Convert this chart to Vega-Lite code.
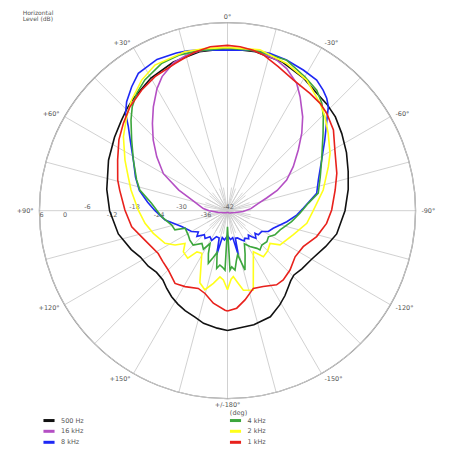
{
  "$schema": "https://vega.github.io/schema/vega-lite/v6.json",
  "width": 376,
  "height": 376,
  "autosize": {"type": "none"},
  "padding": {"left": 39.5, "top": 22.7, "right": 36.5, "bottom": 53.3},
  "background": "white",
  "config": {"view": {"stroke": null}, "font": "DejaVu Sans"},
  "datasets": {
    "rings": [
      {"lv": 6}, {"lv": 0}, {"lv": -6}, {"lv": -12}, {"lv": -18},
      {"lv": -24}, {"lv": -30}, {"lv": -36}
    ],
    "spokes": [
      {"a": 0}, {"a": 15}, {"a": 30}, {"a": 45}, {"a": 60}, {"a": 75},
      {"a": 90}, {"a": 105}, {"a": 120}, {"a": 135}, {"a": 150}, {"a": 165},
      {"a": 180}, {"a": 195}, {"a": 210}, {"a": 225}, {"a": 240}, {"a": 255},
      {"a": 270}, {"a": 285}, {"a": 300}, {"a": 315}, {"a": 330}, {"a": 345}
    ],
    "hub": [
      {"a": 0}, {"a": 10}, {"a": 20}, {"a": 30}, {"a": 40}, {"a": 50},
      {"a": 60}, {"a": 70}, {"a": 80}, {"a": 90}, {"a": 100}, {"a": 110},
      {"a": 120}, {"a": 130}, {"a": 140}, {"a": 150}, {"a": 160}, {"a": 170},
      {"a": 180}, {"a": 190}, {"a": 200}, {"a": 210}, {"a": 220}, {"a": 230},
      {"a": 240}, {"a": 250}, {"a": 260}, {"a": 270}, {"a": 280}, {"a": 290},
      {"a": 300}, {"a": 310}, {"a": 320}, {"a": 330}, {"a": 340}, {"a": 350}
    ],
    "levels": [
      {"lv": 6, "t": "6"}, {"lv": 0, "t": "0"}, {"lv": -6, "t": "-6"},
      {"lv": -12, "t": "-12"}, {"lv": -18, "t": "-18"}, {"lv": -24, "t": "-24"},
      {"lv": -30, "t": "-30"}, {"lv": -36, "t": "-36"}, {"lv": -42, "t": "-42"}
    ],
    "angles": [
      {"a": 0, "t": "0°"}, {"a": 30, "t": "+30°"}, {"a": 60, "t": "+60°"},
      {"a": 90, "t": "+90°"}, {"a": 120, "t": "+120°"}, {"a": 150, "t": "+150°"},
      {"a": 180, "t": "+/-180°"}, {"a": -150, "t": "-150°"}, {"a": -120, "t": "-120°"},
      {"a": -90, "t": "-90°"}, {"a": -60, "t": "-60°"}, {"a": -30, "t": "-30°"}
    ],
    "curves": [
      {"f": "500 Hz", "a": -180, "db": -11.4},
      {"f": "500 Hz", "a": -167, "db": -12.1},
      {"f": "500 Hz", "a": -158, "db": -12.8},
      {"f": "500 Hz", "a": -151, "db": -14.5},
      {"f": "500 Hz", "a": -146, "db": -15.8},
      {"f": "500 Hz", "a": -141, "db": -17.2},
      {"f": "500 Hz", "a": -138, "db": -17.9},
      {"f": "500 Hz", "a": -134, "db": -18.4},
      {"f": "500 Hz", "a": -128, "db": -17.9},
      {"f": "500 Hz", "a": -120, "db": -17.2},
      {"f": "500 Hz", "a": -110, "db": -15.3},
      {"f": "500 Hz", "a": -102, "db": -13.5},
      {"f": "500 Hz", "a": -90, "db": -12.0},
      {"f": "500 Hz", "a": -80, "db": -10.7},
      {"f": "500 Hz", "a": -72, "db": -9.6},
      {"f": "500 Hz", "a": -64, "db": -8.2},
      {"f": "500 Hz", "a": -56, "db": -6.8},
      {"f": "500 Hz", "a": -49, "db": -5.5},
      {"f": "500 Hz", "a": -43, "db": -4.8},
      {"f": "500 Hz", "a": -37, "db": -4.3},
      {"f": "500 Hz", "a": -30, "db": -3.0},
      {"f": "500 Hz", "a": -20, "db": -1.5},
      {"f": "500 Hz", "a": -10, "db": -0.8},
      {"f": "500 Hz", "a": 0, "db": -0.6},
      {"f": "500 Hz", "a": 10, "db": -0.8},
      {"f": "500 Hz", "a": 20, "db": -1.6},
      {"f": "500 Hz", "a": 30, "db": -2.9},
      {"f": "500 Hz", "a": 40, "db": -4.6},
      {"f": "500 Hz", "a": 45, "db": -5.5},
      {"f": "500 Hz", "a": 50, "db": -6.5},
      {"f": "500 Hz", "a": 57, "db": -7.6},
      {"f": "500 Hz", "a": 67, "db": -9.0},
      {"f": "500 Hz", "a": 80, "db": -10.7},
      {"f": "500 Hz", "a": 90, "db": -11.9},
      {"f": "500 Hz", "a": 102, "db": -13.5},
      {"f": "500 Hz", "a": 112, "db": -15.5},
      {"f": "500 Hz", "a": 118, "db": -16.8},
      {"f": "500 Hz", "a": 125, "db": -17.3},
      {"f": "500 Hz", "a": 131, "db": -18.0},
      {"f": "500 Hz", "a": 137, "db": -17.8},
      {"f": "500 Hz", "a": 142, "db": -16.8},
      {"f": "500 Hz", "a": 147, "db": -15.8},
      {"f": "500 Hz", "a": 152, "db": -15.0},
      {"f": "500 Hz", "a": 157, "db": -14.3},
      {"f": "500 Hz", "a": 163, "db": -13.6},
      {"f": "500 Hz", "a": 168, "db": -12.6},
      {"f": "500 Hz", "a": 175, "db": -11.9},
      {"f": "500 Hz", "a": 180, "db": -11.4},

      {"f": "16 kHz", "a": -180, "db": -41.6},
      {"f": "16 kHz", "a": -150, "db": -41.4},
      {"f": "16 kHz", "a": -130, "db": -41.1},
      {"f": "16 kHz", "a": -115, "db": -40.8},
      {"f": "16 kHz", "a": -103, "db": -40.0},
      {"f": "16 kHz", "a": -93, "db": -38.0},
      {"f": "16 kHz", "a": -85, "db": -36.0},
      {"f": "16 kHz", "a": -77, "db": -34.0},
      {"f": "16 kHz", "a": -72, "db": -31.5},
      {"f": "16 kHz", "a": -67.8, "db": -28.3},
      {"f": "16 kHz", "a": -62.6, "db": -25.0},
      {"f": "16 kHz", "a": -56.2, "db": -21.8},
      {"f": "16 kHz", "a": -49.4, "db": -18.2},
      {"f": "16 kHz", "a": -43.8, "db": -14.6},
      {"f": "16 kHz", "a": -38.7, "db": -11.3},
      {"f": "16 kHz", "a": -32.5, "db": -7.5},
      {"f": "16 kHz", "a": -28.5, "db": -5.0},
      {"f": "16 kHz", "a": -22.6, "db": -2.7},
      {"f": "16 kHz", "a": -18, "db": -1.5},
      {"f": "16 kHz", "a": -10, "db": -0.6},
      {"f": "16 kHz", "a": 0, "db": -0.4},
      {"f": "16 kHz", "a": 10, "db": -0.6},
      {"f": "16 kHz", "a": 15, "db": -1.0},
      {"f": "16 kHz", "a": 20, "db": -1.8},
      {"f": "16 kHz", "a": 26, "db": -3.9},
      {"f": "16 kHz", "a": 30, "db": -6.0},
      {"f": "16 kHz", "a": 35.5, "db": -9.4},
      {"f": "16 kHz", "a": 40.7, "db": -12.6},
      {"f": "16 kHz", "a": 46.4, "db": -15.8},
      {"f": "16 kHz", "a": 52.7, "db": -19.3},
      {"f": "16 kHz", "a": 60, "db": -23.1},
      {"f": "16 kHz", "a": 67, "db": -28.5},
      {"f": "16 kHz", "a": 73, "db": -32.5},
      {"f": "16 kHz", "a": 80, "db": -34.8},
      {"f": "16 kHz", "a": 85, "db": -35.8},
      {"f": "16 kHz", "a": 90, "db": -37.3},
      {"f": "16 kHz", "a": 95, "db": -38.8},
      {"f": "16 kHz", "a": 100, "db": -39.6},
      {"f": "16 kHz", "a": 106, "db": -40.3},
      {"f": "16 kHz", "a": 115, "db": -40.8},
      {"f": "16 kHz", "a": 130, "db": -41.2},
      {"f": "16 kHz", "a": 150, "db": -41.4},
      {"f": "16 kHz", "a": 180, "db": -41.6},

      {"f": "8 kHz", "a": -180, "db": -35.6},
      {"f": "8 kHz", "a": -174, "db": -34.6},
      {"f": "8 kHz", "a": -169, "db": -35.0},
      {"f": "8 kHz", "a": -166.3, "db": -30.4},
      {"f": "8 kHz", "a": -164, "db": -34.7},
      {"f": "8 kHz", "a": -160, "db": -34.6},
      {"f": "8 kHz", "a": -154, "db": -33.7},
      {"f": "8 kHz", "a": -151, "db": -33.2},
      {"f": "8 kHz", "a": -147.6, "db": -33.7},
      {"f": "8 kHz", "a": -143, "db": -33.0},
      {"f": "8 kHz", "a": -139.4, "db": -33.8},
      {"f": "8 kHz", "a": -137, "db": -32.9},
      {"f": "8 kHz", "a": -134, "db": -31.9},
      {"f": "8 kHz", "a": -129.4, "db": -32.9},
      {"f": "8 kHz", "a": -128, "db": -32.0},
      {"f": "8 kHz", "a": -121.5, "db": -31.8},
      {"f": "8 kHz", "a": -117, "db": -30.3},
      {"f": "8 kHz", "a": -111, "db": -29.5},
      {"f": "8 kHz", "a": -100.5, "db": -26.6},
      {"f": "8 kHz", "a": -93.6, "db": -24.3},
      {"f": "8 kHz", "a": -88, "db": -22.6},
      {"f": "8 kHz", "a": -79, "db": -18.8},
      {"f": "8 kHz", "a": -71.3, "db": -17.5},
      {"f": "8 kHz", "a": -61.7, "db": -14.7},
      {"f": "8 kHz", "a": -54, "db": -11.3},
      {"f": "8 kHz", "a": -48.6, "db": -8.3},
      {"f": "8 kHz", "a": -44.1, "db": -5.0},
      {"f": "8 kHz", "a": -41.4, "db": -3.7},
      {"f": "8 kHz", "a": -38.4, "db": -2.7},
      {"f": "8 kHz", "a": -34.3, "db": -1.6},
      {"f": "8 kHz", "a": -28.3, "db": -1.2},
      {"f": "8 kHz", "a": -21.4, "db": -0.7},
      {"f": "8 kHz", "a": -15, "db": -0.4},
      {"f": "8 kHz", "a": -9, "db": -0.5},
      {"f": "8 kHz", "a": 0, "db": -1.0},
      {"f": "8 kHz", "a": 9.7, "db": -0.4},
      {"f": "8 kHz", "a": 14, "db": 0.1},
      {"f": "8 kHz", "a": 18, "db": 0.35},
      {"f": "8 kHz", "a": 25, "db": 0.6},
      {"f": "8 kHz", "a": 33, "db": -0.2},
      {"f": "8 kHz", "a": 37.7, "db": -2.0},
      {"f": "8 kHz", "a": 42.8, "db": -4.1},
      {"f": "8 kHz", "a": 46.3, "db": -6.0},
      {"f": "8 kHz", "a": 49.7, "db": -8.8},
      {"f": "8 kHz", "a": 54, "db": -11.3},
      {"f": "8 kHz", "a": 61.7, "db": -14.7},
      {"f": "8 kHz", "a": 70, "db": -17.0},
      {"f": "8 kHz", "a": 77, "db": -18.9},
      {"f": "8 kHz", "a": 84, "db": -21.5},
      {"f": "8 kHz", "a": 90, "db": -23.5},
      {"f": "8 kHz", "a": 98.5, "db": -25.9},
      {"f": "8 kHz", "a": 109, "db": -29.6},
      {"f": "8 kHz", "a": 120, "db": -31.4},
      {"f": "8 kHz", "a": 126, "db": -32.8},
      {"f": "8 kHz", "a": 130, "db": -31.8},
      {"f": "8 kHz", "a": 136, "db": -33.5},
      {"f": "8 kHz", "a": 141, "db": -32.9},
      {"f": "8 kHz", "a": 146, "db": -34.0},
      {"f": "8 kHz", "a": 152, "db": -33.4},
      {"f": "8 kHz", "a": 157, "db": -34.8},
      {"f": "8 kHz", "a": 163, "db": -34.7},
      {"f": "8 kHz", "a": 166.3, "db": -30.4},
      {"f": "8 kHz", "a": 169, "db": -35.0},
      {"f": "8 kHz", "a": 174, "db": -34.5},
      {"f": "8 kHz", "a": 180, "db": -35.6},

      {"f": "4 kHz", "a": -180, "db": -37.9},
      {"f": "4 kHz", "a": -177.6, "db": -26.8},
      {"f": "4 kHz", "a": -175.7, "db": -27.6},
      {"f": "4 kHz", "a": -172.8, "db": -26.7},
      {"f": "4 kHz", "a": -170, "db": -29.0},
      {"f": "4 kHz", "a": -167, "db": -30.5},
      {"f": "4 kHz", "a": -163.6, "db": -26.2},
      {"f": "4 kHz", "a": -158, "db": -30.0},
      {"f": "4 kHz", "a": -153, "db": -32.5},
      {"f": "4 kHz", "a": -148, "db": -31.2},
      {"f": "4 kHz", "a": -142, "db": -29.8},
      {"f": "4 kHz", "a": -140.4, "db": -29.0},
      {"f": "4 kHz", "a": -135, "db": -29.6},
      {"f": "4 kHz", "a": -128.3, "db": -29.2},
      {"f": "4 kHz", "a": -122.5, "db": -29.6},
      {"f": "4 kHz", "a": -117, "db": -28.4},
      {"f": "4 kHz", "a": -110, "db": -27.7},
      {"f": "4 kHz", "a": -99.7, "db": -25.4},
      {"f": "4 kHz", "a": -92, "db": -23.5},
      {"f": "4 kHz", "a": -84.8, "db": -21.3},
      {"f": "4 kHz", "a": -79, "db": -18.4},
      {"f": "4 kHz", "a": -70, "db": -16.8},
      {"f": "4 kHz", "a": -61.7, "db": -14.7},
      {"f": "4 kHz", "a": -51, "db": -10.6},
      {"f": "4 kHz", "a": -45.5, "db": -7.7},
      {"f": "4 kHz", "a": -41.3, "db": -5.5},
      {"f": "4 kHz", "a": -36.5, "db": -3.7},
      {"f": "4 kHz", "a": -30, "db": -2.5},
      {"f": "4 kHz", "a": -21.4, "db": -0.7},
      {"f": "4 kHz", "a": -10, "db": -0.5},
      {"f": "4 kHz", "a": 0, "db": -0.5},
      {"f": "4 kHz", "a": 10, "db": -0.5},
      {"f": "4 kHz", "a": 17, "db": -0.4},
      {"f": "4 kHz", "a": 24, "db": -0.8},
      {"f": "4 kHz", "a": 32.3, "db": -2.5},
      {"f": "4 kHz", "a": 37.7, "db": -4.1},
      {"f": "4 kHz", "a": 42.5, "db": -6.0},
      {"f": "4 kHz", "a": 46.8, "db": -8.2},
      {"f": "4 kHz", "a": 53.6, "db": -11.6},
      {"f": "4 kHz", "a": 61.7, "db": -14.7},
      {"f": "4 kHz", "a": 71.3, "db": -17.5},
      {"f": "4 kHz", "a": 76.7, "db": -19.0},
      {"f": "4 kHz", "a": 84.4, "db": -22.5},
      {"f": "4 kHz", "a": 95.2, "db": -25.1},
      {"f": "4 kHz", "a": 104.4, "db": -27.3},
      {"f": "4 kHz", "a": 110, "db": -27.7},
      {"f": "4 kHz", "a": 112.5, "db": -30.3},
      {"f": "4 kHz", "a": 121.8, "db": -30.2},
      {"f": "4 kHz", "a": 128, "db": -29.8},
      {"f": "4 kHz", "a": 135, "db": -29.6},
      {"f": "4 kHz", "a": 142, "db": -31.4},
      {"f": "4 kHz", "a": 148, "db": -30.4},
      {"f": "4 kHz", "a": 152, "db": -32.5},
      {"f": "4 kHz", "a": 156, "db": -30.0},
      {"f": "4 kHz", "a": 160, "db": -27.7},
      {"f": "4 kHz", "a": 163, "db": -29.5},
      {"f": "4 kHz", "a": 166, "db": -31.0},
      {"f": "4 kHz", "a": 169.4, "db": -27.0},
      {"f": "4 kHz", "a": 172, "db": -28.0},
      {"f": "4 kHz", "a": 175, "db": -27.5},
      {"f": "4 kHz", "a": 177.6, "db": -26.8},
      {"f": "4 kHz", "a": 180, "db": -37.9},

      {"f": "2 kHz", "a": -180, "db": -21.8},
      {"f": "2 kHz", "a": -177, "db": -24.5},
      {"f": "2 kHz", "a": -175, "db": -25.1},
      {"f": "2 kHz", "a": -172, "db": -23.5},
      {"f": "2 kHz", "a": -168.7, "db": -21.3},
      {"f": "2 kHz", "a": -162, "db": -20.7},
      {"f": "2 kHz", "a": -147.8, "db": -29.6},
      {"f": "2 kHz", "a": -142, "db": -27.1},
      {"f": "2 kHz", "a": -135, "db": -27.5},
      {"f": "2 kHz", "a": -127.6, "db": -28.3},
      {"f": "2 kHz", "a": -123, "db": -26.0},
      {"f": "2 kHz", "a": -110, "db": -24.1},
      {"f": "2 kHz", "a": -99, "db": -21.5},
      {"f": "2 kHz", "a": -90.5, "db": -20.2},
      {"f": "2 kHz", "a": -77.8, "db": -17.0},
      {"f": "2 kHz", "a": -66.4, "db": -13.9},
      {"f": "2 kHz", "a": -60.8, "db": -12.0},
      {"f": "2 kHz", "a": -52.5, "db": -9.6},
      {"f": "2 kHz", "a": -46, "db": -7.4},
      {"f": "2 kHz", "a": -40.8, "db": -5.8},
      {"f": "2 kHz", "a": -31.2, "db": -3.0},
      {"f": "2 kHz", "a": -21.9, "db": -1.5},
      {"f": "2 kHz", "a": -11.4, "db": -0.1},
      {"f": "2 kHz", "a": 0, "db": -0.3},
      {"f": "2 kHz", "a": 8, "db": -0.2},
      {"f": "2 kHz", "a": 15, "db": 0.0},
      {"f": "2 kHz", "a": 26.5, "db": -0.45},
      {"f": "2 kHz", "a": 33.3, "db": -2.1},
      {"f": "2 kHz", "a": 40.9, "db": -4.6},
      {"f": "2 kHz", "a": 47, "db": -6.8},
      {"f": "2 kHz", "a": 54.6, "db": -9.4},
      {"f": "2 kHz", "a": 63.7, "db": -12.8},
      {"f": "2 kHz", "a": 71.1, "db": -15.2},
      {"f": "2 kHz", "a": 77.9, "db": -16.8},
      {"f": "2 kHz", "a": 89.5, "db": -19.2},
      {"f": "2 kHz", "a": 98.7, "db": -20.7},
      {"f": "2 kHz", "a": 107, "db": -22.2},
      {"f": "2 kHz", "a": 117.6, "db": -24.0},
      {"f": "2 kHz", "a": 123.2, "db": -26.0},
      {"f": "2 kHz", "a": 127.6, "db": -28.3},
      {"f": "2 kHz", "a": 133, "db": -26.6},
      {"f": "2 kHz", "a": 140, "db": -26.2},
      {"f": "2 kHz", "a": 143.5, "db": -28.9},
      {"f": "2 kHz", "a": 148.9, "db": -29.3},
      {"f": "2 kHz", "a": 159, "db": -22.3},
      {"f": "2 kHz", "a": 164, "db": -21.0},
      {"f": "2 kHz", "a": 169, "db": -23.1},
      {"f": "2 kHz", "a": 173.5, "db": -25.0},
      {"f": "2 kHz", "a": 176.6, "db": -24.3},
      {"f": "2 kHz", "a": 180, "db": -21.8},

      {"f": "1 kHz", "a": -180, "db": -16.4},
      {"f": "1 kHz", "a": -174.6, "db": -17.0},
      {"f": "1 kHz", "a": -168.9, "db": -18.8},
      {"f": "1 kHz", "a": -161.6, "db": -21.1},
      {"f": "1 kHz", "a": -154.8, "db": -20.6},
      {"f": "1 kHz", "a": -146.5, "db": -19.3},
      {"f": "1 kHz", "a": -141.2, "db": -19.3},
      {"f": "1 kHz", "a": -133.5, "db": -20.0},
      {"f": "1 kHz", "a": -124.3, "db": -21.1},
      {"f": "1 kHz", "a": -115.4, "db": -20.6},
      {"f": "1 kHz", "a": -106.2, "db": -18.3},
      {"f": "1 kHz", "a": -97.3, "db": -16.5},
      {"f": "1 kHz", "a": -89.6, "db": -15.4},
      {"f": "1 kHz", "a": -79.1, "db": -14.0},
      {"f": "1 kHz", "a": -71.1, "db": -12.5},
      {"f": "1 kHz", "a": -60.5, "db": -10.5},
      {"f": "1 kHz", "a": -52.7, "db": -8.0},
      {"f": "1 kHz", "a": -45.5, "db": -6.5},
      {"f": "1 kHz", "a": -40.8, "db": -5.8},
      {"f": "1 kHz", "a": -35.1, "db": -5.4},
      {"f": "1 kHz", "a": -26.7, "db": -4.6},
      {"f": "1 kHz", "a": -19.4, "db": -3.0},
      {"f": "1 kHz", "a": -13, "db": -1.2},
      {"f": "1 kHz", "a": -9.1, "db": -0.5},
      {"f": "1 kHz", "a": -4.4, "db": 0.0},
      {"f": "1 kHz", "a": 0, "db": 0.2},
      {"f": "1 kHz", "a": 6, "db": 0.1},
      {"f": "1 kHz", "a": 12, "db": -0.7},
      {"f": "1 kHz", "a": 19.6, "db": -2.1},
      {"f": "1 kHz", "a": 28.4, "db": -3.1},
      {"f": "1 kHz", "a": 35.4, "db": -4.2},
      {"f": "1 kHz", "a": 43.2, "db": -5.6},
      {"f": "1 kHz", "a": 50, "db": -7.3},
      {"f": "1 kHz", "a": 56.9, "db": -8.9},
      {"f": "1 kHz", "a": 65.2, "db": -11.1},
      {"f": "1 kHz", "a": 74.4, "db": -12.9},
      {"f": "1 kHz", "a": 79.3, "db": -14.0},
      {"f": "1 kHz", "a": 89.6, "db": -15.8},
      {"f": "1 kHz", "a": 99.5, "db": -17.2},
      {"f": "1 kHz", "a": 109.6, "db": -19.6},
      {"f": "1 kHz", "a": 121.7, "db": -21.2},
      {"f": "1 kHz", "a": 128, "db": -21.0},
      {"f": "1 kHz", "a": 135, "db": -20.6},
      {"f": "1 kHz", "a": 144.2, "db": -19.1},
      {"f": "1 kHz", "a": 150.8, "db": -19.8},
      {"f": "1 kHz", "a": 159.4, "db": -20.8},
      {"f": "1 kHz", "a": 164.8, "db": -20.1},
      {"f": "1 kHz", "a": 171.3, "db": -18.1},
      {"f": "1 kHz", "a": 178.6, "db": -16.6},
      {"f": "1 kHz", "a": 180, "db": -16.4}
    ]
  },
  "layer": [
    {
      "data": {"name": "spokes"},
      "transform": [
        {"calculate": "0", "as": "o"},
        {"calculate": "-48*sin(datum.a*PI/180)", "as": "ex"},
        {"calculate": "48*cos(datum.a*PI/180)", "as": "ey"}
      ],
      "mark": {"type": "rule", "color": "#cccccc", "strokeWidth": 0.9},
      "encoding": {
        "x": {"field": "o", "type": "quantitative", "scale": {"domain": [-48, 48], "nice": false, "zero": false}, "axis": null},
        "y": {"field": "o", "type": "quantitative", "scale": {"domain": [-48, 48], "nice": false, "zero": false}, "axis": null},
        "x2": {"field": "ex"},
        "y2": {"field": "ey"}
      }
    },
    {
      "data": {"name": "hub"},
      "transform": [
        {"calculate": "0", "as": "o"},
        {"calculate": "-6*sin(datum.a*PI/180)", "as": "ex"},
        {"calculate": "6*cos(datum.a*PI/180)", "as": "ey"}
      ],
      "mark": {"type": "rule", "color": "#cccccc", "strokeWidth": 0.8},
      "encoding": {
        "x": {"field": "o", "type": "quantitative"},
        "y": {"field": "o", "type": "quantitative"},
        "x2": {"field": "ex"},
        "y2": {"field": "ey"}
      }
    },
    {
      "data": {"name": "rings"},
      "transform": [
        {"calculate": "datum.lv + 42", "as": "rr"}
      ],
      "mark": {"type": "arc", "theta": 0, "theta2": 6.2832, "filled": false},
      "encoding": {
        "radius": {"field": "rr", "type": "quantitative", "scale": {"type": "linear", "domain": [0, 48], "range": [0, 188], "zero": true}},
        "stroke": {"condition": {"test": "datum.lv == 6", "value": "#8c8c8c"}, "value": "#cccccc"},
        "strokeWidth": {"condition": {"test": "datum.lv == 6", "value": 1.3}, "value": 0.9}
      }
    },
    {
      "data": {"name": "levels"},
      "transform": [
        {"filter": "indexof([-6, -18, -30, -42], datum.lv) >= 0"},
        {"calculate": "-(datum.lv + 42)", "as": "lx"},
        {"calculate": "0", "as": "ly"}
      ],
      "mark": {"type": "text", "fontSize": 6.5, "color": "#666666", "baseline": "bottom", "dy": -1, "dx": 1},
      "encoding": {
        "x": {"field": "lx", "type": "quantitative"},
        "y": {"field": "ly", "type": "quantitative"},
        "text": {"field": "t"}
      }
    },
    {
      "data": {"name": "levels"},
      "transform": [
        {"filter": "indexof([-6, -18, -30, -42], datum.lv) < 0"},
        {"calculate": "-(datum.lv + 42)", "as": "lx"},
        {"calculate": "0", "as": "ly"}
      ],
      "mark": {"type": "text", "fontSize": 6.5, "color": "#666666", "baseline": "top", "dy": 1, "dx": 2},
      "encoding": {
        "x": {"field": "lx", "type": "quantitative"},
        "y": {"field": "ly", "type": "quantitative"},
        "text": {"field": "t"}
      }
    },
    {
      "data": {"name": "curves"},
      "transform": [
        {"calculate": "max(0, datum.db + 42)", "as": "r"},
        {"calculate": "-datum.r*sin(datum.a*PI/180)", "as": "px"},
        {"calculate": "datum.r*cos(datum.a*PI/180)", "as": "py"}
      ],
      "mark": {"type": "line", "strokeWidth": 1.6, "interpolate": "linear"},
      "encoding": {
        "x": {"field": "px", "type": "quantitative"},
        "y": {"field": "py", "type": "quantitative"},
        "order": {"field": "a", "type": "quantitative"},
        "color": {
          "field": "f",
          "type": "nominal",
          "scale": {
            "domain": ["500 Hz", "16 kHz", "8 kHz", "4 kHz", "2 kHz", "1 kHz"],
            "range": ["#111111", "#b44fc4", "#1e28f5", "#3ca63c", "#ffff1a", "#e8211c"]
          },
          "legend": {
            "orient": "none",
            "legendX": 5,
            "legendY": 393.1,
            "columns": 2,
            "gridAlign": "all",
            "columnPadding": 138.5,
            "rowPadding": -2.3,
            "padding": 0,
            "title": null,
            "symbolType": "M-1.85,0H1.85",
            "symbolSize": 36,
            "symbolStrokeWidth": 3,
            "labelFontSize": 6.5,
            "labelColor": "#555555",
            "labelOffset": 7.5
          }
        }
      }
    },
    {
      "data": {"name": "angles"},
      "transform": [
        {"filter": "datum.a > 0 && datum.a < 180"},
        {"calculate": "-49.5*sin(datum.a*PI/180)", "as": "tx"},
        {"calculate": "49.5*cos(datum.a*PI/180)", "as": "ty"}
      ],
      "mark": {"type": "text", "fontSize": 6.5, "color": "#555555", "align": "right", "baseline": "middle"},
      "encoding": {
        "x": {"field": "tx", "type": "quantitative"},
        "y": {"field": "ty", "type": "quantitative"},
        "text": {"field": "t"}
      }
    },
    {
      "data": {"name": "angles"},
      "transform": [
        {"filter": "datum.a < 0"},
        {"calculate": "-49.5*sin(datum.a*PI/180)", "as": "tx"},
        {"calculate": "49.5*cos(datum.a*PI/180)", "as": "ty"}
      ],
      "mark": {"type": "text", "fontSize": 6.5, "color": "#555555", "align": "left", "baseline": "middle"},
      "encoding": {
        "x": {"field": "tx", "type": "quantitative"},
        "y": {"field": "ty", "type": "quantitative"},
        "text": {"field": "t"}
      }
    },
    {
      "data": {"name": "angles"},
      "transform": [
        {"filter": "datum.a == 0 || datum.a == 180"},
        {"calculate": "-49.5*sin(datum.a*PI/180)", "as": "tx"},
        {"calculate": "49.5*cos(datum.a*PI/180)", "as": "ty"}
      ],
      "mark": {"type": "text", "fontSize": 6.5, "color": "#555555", "align": "center", "baseline": "middle"},
      "encoding": {
        "x": {"field": "tx", "type": "quantitative"},
        "y": {"field": "ty", "type": "quantitative"},
        "text": {"field": "t"}
      }
    },
    {
      "data": {"values": [{"t": "(deg)"}]},
      "transform": [
        {"calculate": "0", "as": "tx"},
        {"calculate": "-51.6", "as": "ty"}
      ],
      "mark": {"type": "text", "fontSize": 6.5, "color": "#555555", "align": "center", "baseline": "middle", "dx": 11},
      "encoding": {
        "x": {"field": "tx", "type": "quantitative"},
        "y": {"field": "ty", "type": "quantitative"},
        "text": {"field": "t"}
      }
    },
    {
      "data": {"values": [{"t": ["Horizontal", "Level  (dB)"]}]},
      "transform": [
        {"calculate": "-52.3", "as": "tx"},
        {"calculate": "51.3", "as": "ty"}
      ],
      "mark": {"type": "text", "fontSize": 6, "color": "#555555", "align": "left", "baseline": "top", "lineHeight": 6.5},
      "encoding": {
        "x": {"field": "tx", "type": "quantitative"},
        "y": {"field": "ty", "type": "quantitative"},
        "text": {"field": "t"}
      }
    }
  ]
}
